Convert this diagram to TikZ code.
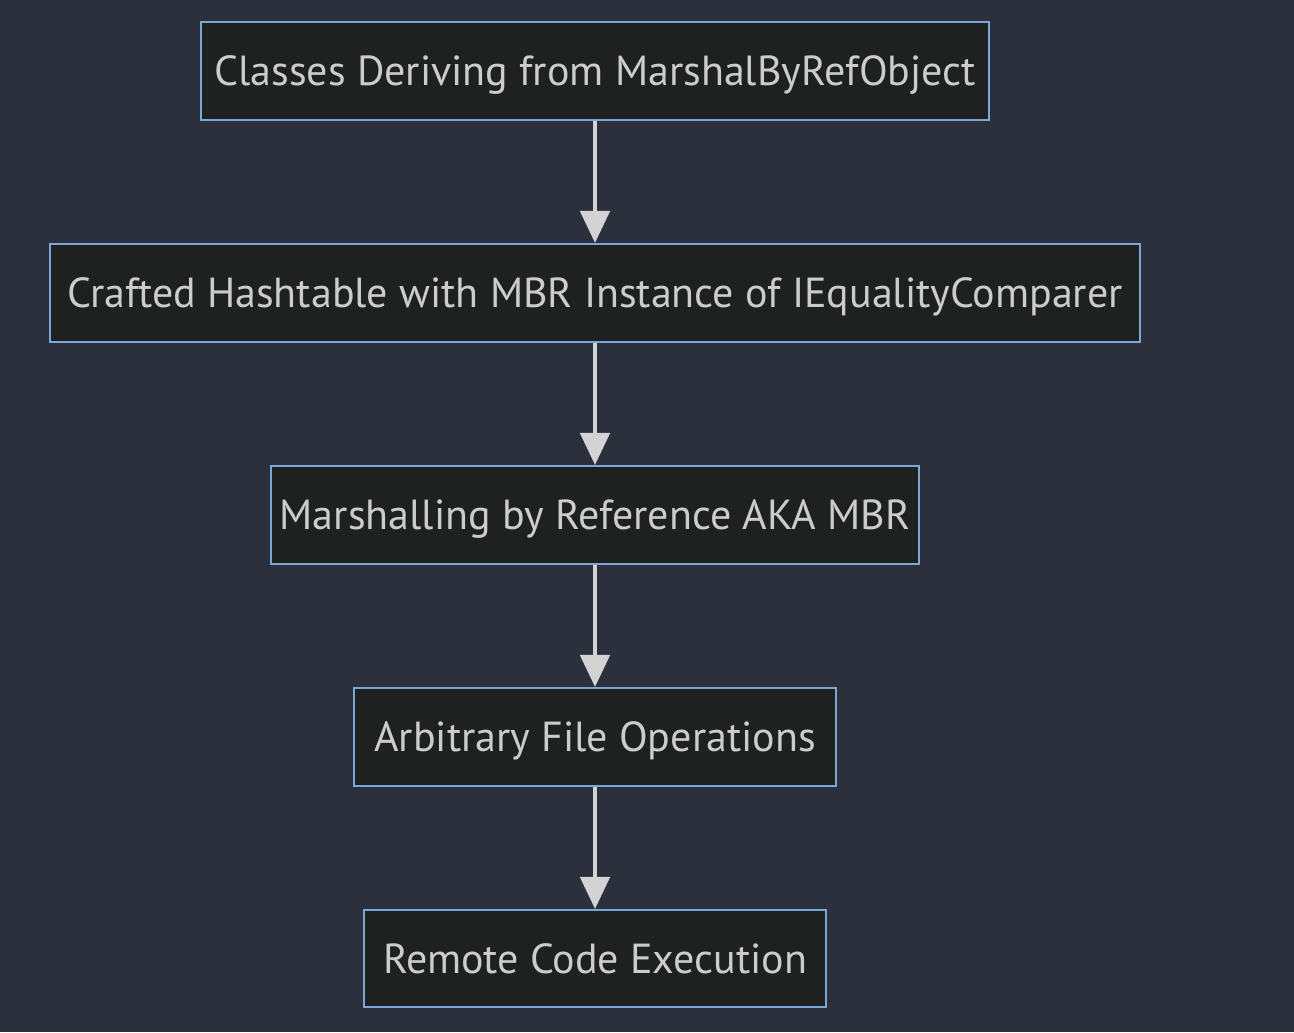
\documentclass[tikz,border=0pt]{standalone}
\usepackage{fontspec}
\setmainfont{PT Sans}
\usetikzlibrary{arrows.meta}
\definecolor{bgc}{HTML}{2B303C}
\definecolor{nodefill}{HTML}{1F2020}
\definecolor{nodeline}{HTML}{7AA7D6}
\definecolor{txt}{HTML}{CCCCCC}
\definecolor{arr}{HTML}{D3D3D3}
\tikzset{
  box/.style={draw=nodeline, fill=nodefill, line width=1.6pt, text=txt,
    font=\fontsize{31.5}{36}\selectfont, inner sep=0pt, anchor=center,
    text height=26pt, text depth=4pt},
  flow/.style={draw=arr, line width=3pt, -{Triangle[length=24pt,width=22pt]}, shorten >=0pt}
}
\begin{document}
\begin{tikzpicture}[x=0.75pt,y=-0.75pt]
\fill[bgc] (0,0) rectangle (1294,1032);
\useasboundingbox (0,0) rectangle (1294,1032);
\node[box, minimum width=788*0.75pt, minimum height=98*0.75pt] (n1) at (595,71) {Classes Deriving from MarshalByRefObject};
\node[box, minimum width=1090*0.75pt, minimum height=98*0.75pt] (n2) at (595,293) {Crafted Hashtable with MBR Instance of IEqualityComparer};
\node[box, minimum width=648*0.75pt, minimum height=98*0.75pt] (n3) at (595,515) {Marshalling by Reference AKA MBR};
\node[box, minimum width=482*0.75pt, minimum height=98*0.75pt] (n4) at (595,737) {Arbitrary File Operations};
\node[box, minimum width=462*0.75pt, minimum height=97*0.75pt] (n5) at (595,958.5) {Remote Code Execution};
\draw[flow] (n1) -- (n2);
\draw[flow] (n2) -- (n3);
\draw[flow] (n3) -- (n4);
\draw[flow] (n4) -- (n5);
\end{tikzpicture}
\end{document}
